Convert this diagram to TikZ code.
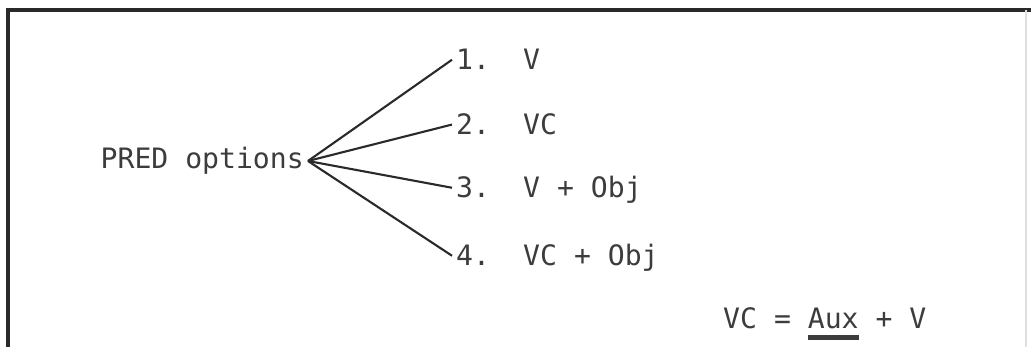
\documentclass[tikz,border=0pt]{standalone}
\usepackage{fontspec}
\setmonofont{DejaVu Sans Mono}
\usepackage{tikz}
\usetikzlibrary{positioning}
\definecolor{inkgray}{HTML}{2A2A2A}
\definecolor{typegray}{HTML}{3C3C3C}
\newcommand{\heavyul}[1]{\leavevmode\vtop{\hbox{#1}\kern1.6pt\hrule height 1.3pt}}

\begin{document}
\begin{tikzpicture}[
  label/.style={
    font=\ttfamily\fontsize{8pt}{9pt}\selectfont, text=typegray,
    inner sep=1pt
  },
  branch/.style={draw=inkgray, line width=0.6pt},
  frame/.style={draw=inkgray, line width=0.9pt}
]
\useasboundingbox (0,0) rectangle (10.31,3.47);

% Rahmen
\draw[frame] (0.08,0) -- (0.08,3.37) -- (10.31,3.37);
\draw[draw=gray!25, line width=0.4pt] (10.26,0) -- (10.26,3.37);

% Wurzel
\node[label, anchor=east] (pred) at (3.08,1.86) {PRED options};

% Nummern
\node[label, anchor=base west] (n1) at (4.52,2.77) {1.};
\node[label, anchor=base west] (n2) at (4.52,2.12) {2.};
\node[label, anchor=base west] (n3) at (4.52,1.49) {3.};
\node[label, anchor=base west] (n4) at (4.52,0.81) {4.};

% Optionen
\node[label, anchor=base west] (o1) at (5.19,2.77) {V};
\node[label, anchor=base west] (o2) at (5.19,2.12) {VC};
\node[label, anchor=base west] (o3) at (5.19,1.49) {V + Obj};
\node[label, anchor=base west] (o4) at (5.19,0.81) {VC + Obj};

% Zweige
\draw[branch] (pred.east) -- (n1.west);
\draw[branch] (pred.east) -- (n2.west);
\draw[branch] (pred.east) -- (n3.west);
\draw[branch] (pred.east) -- (n4.west);

% Definition VC
\node[label, anchor=base west] (vcdef) at (7.19,0.18) {VC = \heavyul{Aux} + V};
\end{tikzpicture}
\end{document}
